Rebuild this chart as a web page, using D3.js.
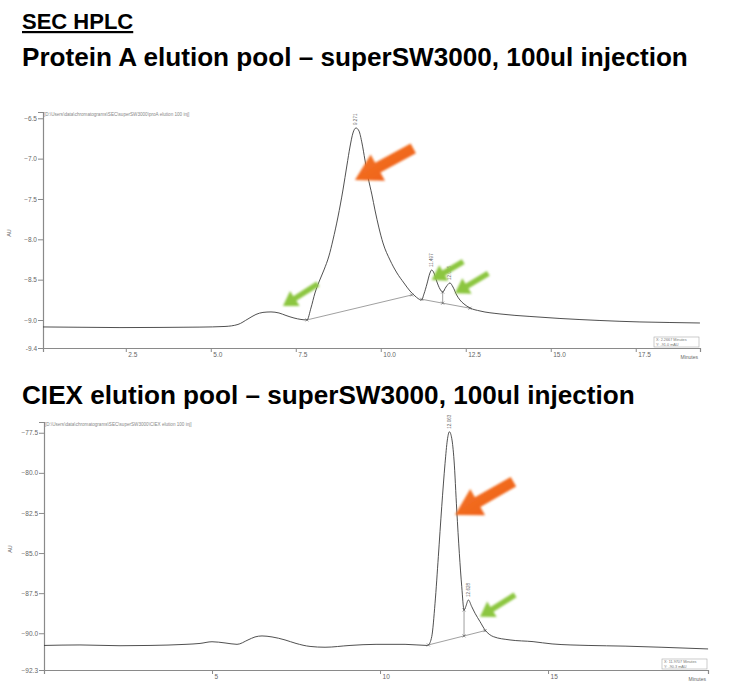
<!DOCTYPE html>
<html><head><meta charset="utf-8">
<script src="https://cdn.jsdelivr.net/npm/d3@7/dist/d3.min.js"></script>
<style>body{margin:0;background:#fff;}svg{display:block;}</style>
</head><body>
<svg id="c" width="733" height="696"></svg>
<script>
// ---------- DATA ----------
const secTime = [0.065,1.153,2.329,3.506,4.682,5.418,5.8,6.094,6.329,6.535,6.771,7.006,7.212,7.447,7.653,7.829,7.947,8.065,8.182,8.329,8.476,8.594,8.741,8.888,9.006,9.094,9.182,9.271,9.359,9.447,9.535,9.624,9.741,9.829,9.947,10.065,10.271,10.476,10.682,10.859,11.006,11.094,11.197,11.271,11.359,11.447,11.497,11.565,11.653,11.741,11.821,11.918,12.035,12.124,12.232,12.329,12.447,12.624,12.918,13.506,14.388,15.271,16.447,17.624,18.506,19.388];
const secSignal = [-9.086,-9.090,-9.094,-9.092,-9.088,-9.080,-9.055,-8.987,-8.931,-8.906,-8.900,-8.913,-8.944,-8.975,-8.993,-8.999,-8.851,-8.665,-8.529,-8.380,-8.206,-8.008,-7.723,-7.388,-7.079,-6.856,-6.682,-6.620,-6.657,-6.806,-7.017,-7.227,-7.450,-7.636,-7.859,-8.045,-8.256,-8.417,-8.541,-8.640,-8.702,-8.733,-8.752,-8.677,-8.553,-8.417,-8.380,-8.417,-8.529,-8.616,-8.653,-8.591,-8.541,-8.591,-8.690,-8.752,-8.801,-8.851,-8.888,-8.925,-8.956,-8.981,-9.006,-9.024,-9.031,-9.037];
const secYTicks = [-6.5,-7.0,-7.5,-8.0,-8.5,-9.0];
const secYEnd = -9.347, secYTop = -6.422;
const secXTicks = [2.5,5.0,7.5,10.0,12.5,15.0,17.5];
const secXDomain = [0.065,19.39];
const secPeaks = [{t:9.271,v:-6.620,label:"9.271"},{t:11.497,v:-8.380,label:"11.497"},{t:12.035,v:-8.541,label:"12.035"}];
const secMarks = [[7.829,-8.999],[10.909,-8.690],[11.203,-8.743],[11.821,-8.653],[11.821,-8.791],[12.624,-8.854]];
const secBaseSegs = [[[7.829,-8.999],[10.909,-8.690]],[[11.203,-8.743],[12.624,-8.854]],[[11.821,-8.653],[11.821,-8.791]]];
const secArrows = [
  {color:"orange", tail:[10.956,-6.872], tip:[9.241,-7.265]},
  {color:"green", tail:[8.153,-8.553], tip:[7.124,-8.826]},
  {color:"green", tail:[12.426,-8.277], tip:[11.497,-8.504]},
  {color:"green", tail:[13.162,-8.421], tip:[12.182,-8.669]}
];

const ciexTime = [0,1.071,2.262,3.155,4.226,4.643,5.0,5.387,5.744,6.071,6.280,6.488,6.786,7.173,7.5,7.917,8.363,9.107,9.881,10.744,11.399,11.438,11.539,11.637,11.735,11.836,11.935,12.003,12.063,12.134,12.202,12.283,12.360,12.432,12.5,12.551,12.628,12.729,12.827,12.976,13.125,13.372,13.869,14.554,15.119,16.190,17.292,18.363,19.762];
const ciexSignal = [-90.759,-90.728,-90.777,-90.759,-90.690,-90.634,-90.528,-90.603,-90.690,-90.416,-90.229,-90.167,-90.229,-90.416,-90.634,-90.821,-90.871,-90.759,-90.690,-90.690,-90.759,-90.728,-90.210,-88.129,-85.226,-82.111,-79.407,-77.955,-77.438,-77.849,-79.201,-82.316,-85.014,-87.095,-88.547,-88.341,-87.924,-88.341,-88.752,-89.276,-89.793,-90.210,-90.416,-90.522,-90.665,-90.759,-90.802,-90.871,-90.977];
const ciexYTicks = [-77.5,-80.0,-82.5,-85.0,-87.5,-90.0];
const ciexYEnd = -92.29, ciexYTop = -76.83;
const ciexXTicks = [5,10,15];
const ciexXDomain = [0,19.76];
const ciexPeaks = [{t:12.063,v:-77.438,label:"12.063"},{t:12.628,v:-87.924,label:"12.628"}];
const ciexMarks = [[11.438,-90.728],[12.5,-88.547],[12.5,-90.166],[13.125,-89.836]];
const ciexBaseSegs = [[[11.438,-90.728],[13.125,-89.836]],[[12.5,-88.547],[12.5,-90.166]]];
const ciexArrows = [
  {color:"orange", tail:[13.97,-80.553], tip:[12.232,-82.628]},
  {color:"green", tail:[14.018,-87.612], tip:[12.976,-88.964]}
];

const titles = ["SEC HPLC","Protein A elution pool – superSW3000, 100ul injection","CIEX elution pool – superSW3000, 100ul injection"];

// ---------- DRAW ----------
const svg = d3.select("#c");
const FONT = "'Liberation Sans', Arial, sans-serif";

function fitText(sel, width){
  const w = sel.node().getComputedTextLength();
  const fs = parseFloat(sel.attr("font-size"));
  sel.attr("font-size", fs*width/w);
}
svg.append("text").attr("x",22).attr("y",29).attr("font-family",FONT).attr("font-weight","bold")
  .attr("font-size",22).attr("text-decoration","underline").text(titles[0]);
fitText(svg.append("text").attr("x",22).attr("y",66).attr("font-family",FONT).attr("font-weight","bold")
  .attr("font-size",22).text(titles[1]), 666);
fitText(svg.append("text").attr("x",22).attr("y",404).attr("font-family",FONT).attr("font-weight","bold")
  .attr("font-size",22).text(titles[2]), 613);

const defs = svg.append("defs");
const og = defs.append("linearGradient").attr("id","og").attr("x1","0").attr("y1","0").attr("x2","1").attr("y2","1");
og.append("stop").attr("offset","0").attr("stop-color","#f47a2a");
og.append("stop").attr("offset","1").attr("stop-color","#ee5a14");
const flt = defs.append("filter").attr("id","blur").attr("x","-20%").attr("y","-20%").attr("width","140%").attr("height","140%");
flt.append("feGaussianBlur").attr("stdDeviation",0.8);

function chart(cfg){
  const g = svg.append("g");
  const x = d3.scaleLinear().domain(cfg.xDomain).range([cfg.left, cfg.right]);
  const y = d3.scaleLinear().domain([cfg.yTop, cfg.yEnd]).range([cfg.top, cfg.bottom]);
  const axisCol = "#8a8a8a", txtCol = "#666";
  g.append("text").attr("x",cfg.left+1).attr("y",cfg.top+3.5).attr("font-family",FONT).attr("font-size",4.6)
    .attr("fill","#888").text(cfg.path);
  const ya = d3.axisLeft(y).tickValues(cfg.yTicks.concat([cfg.yEnd])).tickSize(5).tickFormat(cfg.yFmt);
  const yg = g.append("g").attr("transform",`translate(${cfg.left},0)`).call(ya);
  yg.select(".domain").attr("stroke",axisCol).attr("stroke-width",1.2);
  yg.selectAll(".tick line").attr("stroke",axisCol);
  yg.selectAll(".tick text").attr("font-family",FONT).attr("font-size",6.5).attr("fill",txtCol).attr("x",-6);
  const xa = d3.axisBottom(x).tickValues(cfg.xTicks).tickSize(4).tickFormat(cfg.xFmt);
  const xg = g.append("g").attr("transform",`translate(0,${cfg.bottom})`).call(xa);
  xg.select(".domain").attr("stroke",axisCol).attr("stroke-width",1.2);
  xg.selectAll(".tick line").attr("stroke",axisCol);
  xg.selectAll(".tick text").attr("font-family",FONT).attr("font-size",6.5).attr("fill",txtCol)
    .attr("text-anchor","start").attr("x",2).attr("y",4).attr("dy","0.71em");
  g.append("text").attr("x",cfg.right-2).attr("y",cfg.bottom+11).attr("text-anchor","end").attr("font-family",FONT)
    .attr("font-size",5).attr("fill",txtCol).text("Minutes");
  g.append("text").attr("transform",`translate(${cfg.left-32},${(cfg.top+cfg.bottom)/2+3}) rotate(-90)`)
    .attr("text-anchor","middle").attr("font-family",FONT).attr("font-size",5.5).attr("fill",txtCol).text("AU");
  const bx = cfg.right-46, by = cfg.bottom-11;
  g.append("rect").attr("x",bx).attr("y",by).attr("width",45).attr("height",10).attr("fill","#fff").attr("stroke","#aaa").attr("stroke-width",0.6);
  g.append("text").attr("x",bx+2).attr("y",by+4.3).attr("font-family",FONT).attr("font-size",3.8).attr("fill","#777").text(cfg.readout[0]);
  g.append("text").attr("x",bx+2).attr("y",by+8.6).attr("font-family",FONT).attr("font-size",3.8).attr("fill","#777").text(cfg.readout[1]);
  cfg.baseSegs.forEach(s=>{
    g.append("line").attr("x1",x(s[0][0])).attr("y1",y(s[0][1])).attr("x2",x(s[1][0])).attr("y2",y(s[1][1]))
      .attr("stroke","#888").attr("stroke-width",0.8);
  });
  const data = cfg.time.map((t,i)=>[t,cfg.signal[i]]);
  g.append("path").datum(data).attr("fill","none").attr("stroke","#3c3c3c").attr("stroke-width",0.9)
    .attr("d", d3.line().x(d=>x(d[0])).y(d=>y(d[1])).curve(d3.curveMonotoneX));
  cfg.marks.forEach(m=>{
    g.append("path").attr("d",`M${x(m[0])-1.5},${y(m[1])-1.5}l3,3M${x(m[0])+1.5},${y(m[1])-1.5}l-3,3`)
      .attr("stroke","#555").attr("stroke-width",0.6);
  });
  cfg.peaks.forEach(p=>{
    g.append("text").attr("transform",`translate(${x(p.t)+1.5},${y(p.v)-3}) rotate(-90)`)
      .attr("font-family",FONT).attr("font-size",4.6).attr("fill","#666").text(p.label);
  });
  cfg.arrows.forEach(a=>{
    const x1=x(a.tail[0]), y1=y(a.tail[1]), x2=x(a.tip[0]), y2=y(a.tip[1]);
    const big = a.color==="orange";
    const sw = big?5.5:2.8, hw = big?15:9, hl = big?26:14;
    const dx=x2-x1, dy=y2-y1, L=Math.hypot(dx,dy), ux=dx/L, uy=dy/L, nx=-uy, ny=ux;
    const bxp=x2-ux*hl, byp=y2-uy*hl;
    const pts=[[x1+nx*sw,y1+ny*sw],[bxp+nx*sw,byp+ny*sw],[bxp+nx*hw,byp+ny*hw],[x2,y2],[bxp-nx*hw,byp-ny*hw],[bxp-nx*sw,byp-ny*sw],[x1-nx*sw,y1-ny*sw]];
    g.append("path").attr("d","M"+pts.map(p=>p.join(",")).join("L")+"Z")
      .attr("fill", big?"url(#og)":"#8cc63f").attr("filter","url(#blur)");
  });
}

chart({time:secTime, signal:secSignal, xDomain:secXDomain, yTop:secYTop, yEnd:secYEnd, yTicks:secYTicks,
  xTicks:secXTicks, left:43, right:700, top:112, bottom:348,
  yFmt:d=>d===secYEnd?"-9.4":d3.format(".1f")(d), xFmt:d3.format(".1f"),
  path:"[D:\\Users\\data\\chromatograms\\SEC\\superSW3000\\proA elution 100 inj]",
  readout:["X: 2.2667 Minutes","Y: -91.0 mAU"],
  peaks:secPeaks, marks:secMarks, baseSegs:secBaseSegs, arrows:secArrows});

chart({time:ciexTime, signal:ciexSignal, xDomain:ciexXDomain, yTop:ciexYTop, yEnd:ciexYEnd, yTicks:ciexYTicks,
  xTicks:ciexXTicks, left:44, right:708, top:422, bottom:670,
  yFmt:d=>d3.format(".1f")(d), xFmt:d3.format("d"),
  path:"[D:\\Users\\data\\chromatograms\\SEC\\superSW3000\\CIEX elution 100 inj]",
  readout:["X: 11.9707 Minutes","Y: -90.3 mAU"],
  peaks:ciexPeaks, marks:ciexMarks, baseSegs:ciexBaseSegs, arrows:ciexArrows});
</script>
</body></html>
